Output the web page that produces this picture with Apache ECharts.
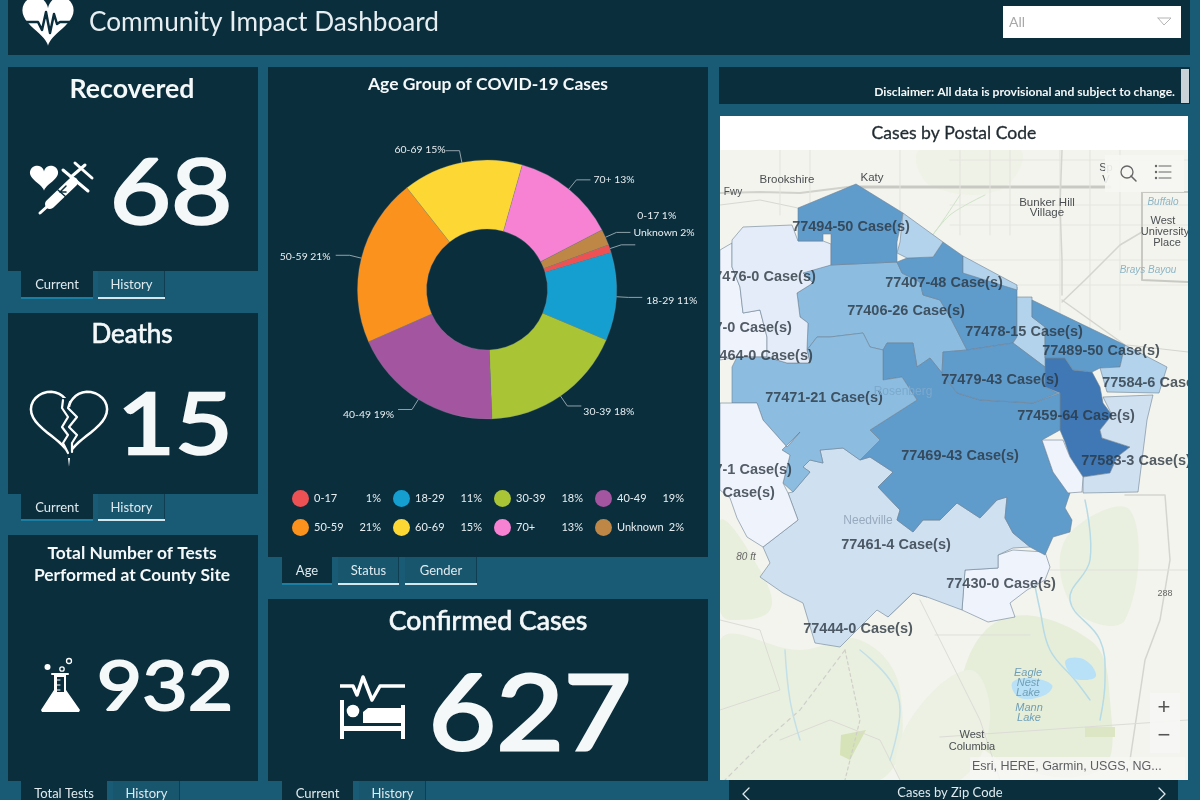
<!DOCTYPE html>
<html><head><meta charset="utf-8">
<script src="https://cdn.jsdelivr.net/npm/echarts@6/dist/echarts.min.js"></script>
<style>html,body{margin:0;padding:0;background:#195a74}#c{width:1200px;height:800px}</style></head>
<body><div id="c"></div>
<script>
// ---- chart values
const ageNames = ['0-17','18-29','30-39','40-49','50-59','60-69','70+','Unknown'];
const agePercents = [1,11,18,19,21,15,13,2];
const ageColors = ['#ed5153','#159fd0','#a9c535','#a3559f','#fb921e','#fdd835','#f781d3','#bf8746'];
const kpiValues = {recovered:'68',deaths:'15',tests:'932',confirmed:'627'};

const zipNames = ['77494','77407','77406','77471','77478','77479','77489','77459','77469','77583','77461','77444','77430','77584','77476','77464','n1','n2','n3','n4'];
const zipCases = [50,48,26,21,15,43,50,64,43,3,4,0,0,6,1,0,15,15,0,0];
const zipShapes = {
 '77476':[[732,240],[743,227],[792,225],[798,241],[823,241],[831,244],[831,265],[803,273],[813,283],[797,293],[800,317],[808,323],[807,350],[810,363],[787,363],[767,357],[767,337],[760,310],[743,313],[740,287],[732,267]],
 '77464':[[720,250],[732,243],[732,267],[740,287],[743,313],[760,310],[767,337],[767,357],[737,357],[720,360]],
 '77494':[[856,184],[798,208],[798,241],[823,241],[823,234],[831,234],[831,265],[897,262],[897,242],[903,213]],
 'n1':[[903,213],[943,242],[933,257],[907,258],[897,253],[900,242]],
 '77407':[[897,262],[907,258],[933,257],[943,242],[963,256],[963,273],[1017,287],[1017,337],[1013,343],[967,350],[950,317],[940,300],[923,295],[920,282],[902,273]],
 'n2':[[963,256],[1017,285],[1017,290],[963,273]],
 '77406':[[807,270],[831,265],[897,262],[902,273],[920,282],[923,295],[940,300],[950,317],[967,350],[943,352],[942,373],[930,358],[917,367],[913,343],[887,343],[883,350],[870,347],[863,333],[830,337],[817,337],[807,350],[808,323],[800,317],[797,293],[813,283],[803,273]],
 '77471':[[732,403],[732,367],[737,357],[767,357],[787,363],[810,363],[807,350],[817,337],[830,337],[863,333],[870,347],[883,350],[883,380],[902,377],[917,400],[870,430],[880,440],[860,460],[843,448],[820,450],[823,463],[810,460],[803,467],[810,472],[793,492],[783,483],[790,455],[782,450],[800,432],[787,447],[763,420],[757,403]],
 'n3':[[720,403],[757,403],[763,420],[787,447],[800,432],[782,450],[790,455],[783,483],[788,493],[798,520],[763,547],[747,537],[737,518],[730,498],[720,490]],
 '77461':[[843,448],[860,460],[870,457],[893,472],[878,487],[900,510],[897,520],[913,532],[923,520],[940,520],[957,503],[980,518],[997,500],[1007,497],[1005,518],[1013,533],[1030,547],[1013,548],[998,555],[998,568],[965,570],[962,610],[927,597],[913,593],[888,617],[877,610],[847,640],[840,647],[815,643],[803,603],[783,593],[760,577],[770,563],[763,547],[798,520],[788,493],[793,492],[810,472],[803,467],[810,460],[823,463],[820,450]],
 '77469':[[883,350],[887,343],[913,343],[917,367],[930,358],[942,373],[957,393],[980,400],[1033,403],[1060,393],[1060,430],[1042,440],[1053,472],[1070,493],[1065,508],[1072,520],[1070,532],[1053,537],[1045,555],[1030,547],[1013,533],[1005,518],[1007,497],[997,500],[980,518],[957,503],[940,520],[923,520],[913,532],[897,520],[900,510],[878,487],[893,472],[870,457],[860,460],[880,440],[870,430],[917,400],[902,377],[883,380]],
 '77479':[[943,352],[967,350],[1013,343],[1045,367],[1045,387],[1058,393],[1033,403],[980,400],[957,393],[942,373]],
 '77478':[[1017,297],[1032,297],[1032,317],[1045,327],[1045,367],[1013,343],[1017,337]],
 '77489':[[1032,300],[1125,345],[1120,367],[1100,368],[1092,372],[1073,370],[1065,358],[1045,358],[1045,327],[1032,317]],
 '77459':[[1045,358],[1065,358],[1073,370],[1092,372],[1100,387],[1103,403],[1112,415],[1100,430],[1102,438],[1130,447],[1117,457],[1110,473],[1083,477],[1070,457],[1065,442],[1060,430],[1060,393],[1045,387]],
 '77584':[[1100,368],[1120,367],[1125,345],[1167,367],[1159,393],[1107,392]],
 'n4':[[1042,440],[1063,440],[1070,457],[1083,477],[1082,492],[1068,493],[1053,472]],
 '77583':[[1103,397],[1153,395],[1147,420],[1138,492],[1083,493],[1083,477],[1110,473],[1117,457],[1130,447],[1102,438],[1100,430],[1112,415]],
 '77444':[[912,553],[943,578],[927,597],[913,593],[888,617],[870,597],[875,573],[883,563],[895,572]],
 '77430':[[998,555],[1013,550],[1045,552],[1050,567],[1045,580],[1027,590],[1010,603],[1015,617],[988,622],[962,610],[965,570],[998,568]]
};
const mapLabels = [['77494-50 Case(s)',851,227],['77476-0 Case(s)',761,277],['77417-0 Case(s)',737,328],['77464-0 Case(s)',758,356],['77407-48 Case(s)',944,283],['77406-26 Case(s)',906,311],['77478-15 Case(s)',1024,332],['77489-50 Case(s)',1101,351],['77584-6 Case(s)',1157,383],['77479-43 Case(s)',1000,380],['77471-21 Case(s)',824,398],['77459-64 Case(s)',1076,416],['77469-43 Case(s)',960,456],['77583-3 Case(s)',1136,461],['77417-1 Case(s)',737,470],['77481-0 Case(s)',720,493],['77461-4 Case(s)',896,545],['77430-0 Case(s)',1001,584],['77444-0 Case(s)',858,629]];

// ---- theme
const BG='#195a74', PANEL='#0b2e3d', TXT='#f4f8f9', FONT='Lato';
const chart = echarts.init(document.getElementById('c'),null,{renderer:'canvas'});

// ---- geo registration with pixel-traced coordinates
const features = Object.keys(zipShapes).map(k=>{const r=zipShapes[k];return {type:'Feature',properties:{name:k},geometry:{type:'Polygon',coordinates:[r.concat([r[0]])]}};});
echarts.registerMap('fortbend',{type:'FeatureCollection',features});
let xs=[],ys=[];Object.values(zipShapes).forEach(r=>r.forEach(p=>{xs.push(p[0]);ys.push(p[1]);}));
const bx=Math.min(...xs),bX=Math.max(...xs),by=Math.min(...ys),bY=Math.max(...ys);

// ---- graphic helpers
const g=[];
const rect=(x,y,w,h,fill,z=51,extra={})=>g.push({type:'rect',shape:{x,y,width:w,height:h},style:{fill,...extra},z,silent:true});
const txt=(x,y,text,size,opt={})=>g.push({type:'text',x,y,z:opt.z||53,silent:true,scaleX:opt.sx||1,style:{text,fontFamily:opt.font||FONT,fontSize:size,fontWeight:opt.w||'normal',fontStyle:opt.s||'normal',fill:opt.c||TXT,align:opt.a||'center',verticalAlign:'middle',opacity:opt.o==null?1:opt.o,stroke:opt.st?(opt.c||TXT):null,lineWidth:opt.st||0}});
const line=(pts,c,lw,z=1,extra={})=>g.push({type:'polyline',shape:{points:pts,smooth:extra.smooth||0},style:{stroke:c,lineWidth:lw,fill:null,lineCap:extra.cap||'round',lineJoin:'round',lineDash:extra.dash||null,opacity:extra.o==null?1:extra.o},z,silent:true});
const poly=(pts,fill,z=1,smooth=0,o=1)=>g.push({type:'polygon',shape:{points:pts,smooth},style:{fill,opacity:o},z,silent:true});
const circ=(cx,cy,r,fill,z=53,stroke=null,lw=0)=>g.push({type:'circle',shape:{cx,cy,r},style:{fill,stroke,lineWidth:lw},z,silent:true});
function heartPts(cx,cy,sx,sy){const p=[];for(let i=0;i<64;i++){const t=i/64*Math.PI*2;const X=16*Math.pow(Math.sin(t),3),Y=13*Math.cos(t)-5*Math.cos(2*t)-2*Math.cos(3*t)-Math.cos(4*t);p.push([cx+X*sx,cy-Y*sy]);}return p;}
function tab(x,y,w,h,label,active,labelY){
  rect(x,y,w,h,active?PANEL:'#18566e',51);
  rect(x,y+h-2,w,2,active?'#1b7ea3':'#d4e6ee',52);
  if(!active) rect(x+w-1,y,1,h-2,'#0f3e52',52);
  txt(x+w/2,labelY==null?y+h/2:labelY,label,13,{c:'#dfeaee'});
}

// ---- basemap (under the map series)
rect(720,116,468,664,'#f3f4ee',0);
poly([[720,640],[800,650],[860,640],[900,690],[880,780],[720,780]],'#e9f0df',0,0.4);
poly([[1000,620],[1090,640],[1110,700],[1100,770],[1000,760],[960,700]],'#e6eeda',0,0.4);
poly([[1065,540],[1130,510],[1125,620],[1075,610]],'#eaf0e0',0,0.4);
poly([[720,520],[760,570],[770,610],[730,620],[720,610]],'#e8efdd',0,0.4);
poly([[910,720],[970,670],[990,720],[960,780],[900,780]],'#ecf1e3',0,0.4);
poly([[920,150],[1020,150],[1000,190],[930,185]],'#eff2e6',0,0.4);
poly([[841,735],[866,730],[850,760],[840,755]],'#d6e2b8',1);
poly([[1085,727],[1115,727],[1115,737],[1085,737]],'#dde6c4',1);
line([[720,193],[760,192],[800,193],[856,186]],'#d2d2cc',2);
line([[860,187],[1110,187]],'#c9c9c4',3);
line([[720,205],[760,200],[798,208]],'#d8d8d2',1);
[780,810,900,960,990,1010,1060,1090,1120].forEach(x=>line([[x,150],[x,x<900?215:(x<1040?235:330)]],'#e3e3dd',1));
[160,205,225,260,285].forEach(y=>line([[950,y],[1188,y]],'#e6e6e0',1));
line([[1062,295],[1062,260],[1060,205],[1062,150]],'#d5d5d0',1.5);
line([[1062,302],[1085,280],[1120,245],[1142,232]],'#d5d5d0',1.5);
line([[1062,300],[1090,320],[1125,345]],'#d5d5d0',1.5);
line([[1142,192],[1142,280],[1188,282]],'#c9c9c4',2);
line([[1142,192],[1188,192]],'#c9c9c4',2);
line([[1127,345],[1188,352]],'#d5d5d0',1);
line([[1125,495],[1165,495],[1170,560],[1160,620],[1145,660],[1130,760]],'#d5d5d0',1.5);
line([[1050,570],[1188,570]],'#e0e0da',1);
line([[935,635],[1030,635]],'#dfdfd9',1);
line([[920,600],[980,720],[1000,780]],'#dcdcd6',1);
line([[720,620],[760,630],[780,690],[720,710]],'#dcdcd6',1);
line([[780,740],[830,720],[880,740],[900,780]],'#dcdcd6',1);
line([[845,650],[800,710],[760,745],[725,780]],'#cfcfca',1.2,1,{dash:[4,4]});
line([[845,650],[860,720],[845,780]],'#cfcfca',1.2,1,{dash:[3,3]});
line([[940,737],[1188,720]],'#dcdcd6',1);
line([[1030,560],[1040,610],[1050,650],[1075,680],[1090,700]],'#b6dbe6',1.5,1,{smooth:0.4});
line([[1085,500],[1090,560],[1070,600],[1100,640],[1105,680],[1100,720]],'#b6dbe6',1.5,1,{smooth:0.4});
line([[785,650],[790,700],[800,740]],'#c3dfe8',1.5,1,{smooth:0.4});
line([[860,650],[890,680],[900,710],[890,760]],'#c3dfe8',1.5,1,{smooth:0.4});
line([[960,195],[940,225],[925,245],[950,215],[985,195]],'#cfe3c8',1,1,{smooth:0.3});
poly([[1066,660],[1085,660],[1096,676],[1080,680],[1070,674]],'#b8e1f7',1,0.4);
poly([[1012,683],[1030,678],[1052,685],[1045,695],[1020,698]],'#b8e1f7',1,0.4);
const mapTxt={font:'Liberation Sans',c:'#4b4f52',z:1};
const blueI={font:'Liberation Sans',c:'#6f9fb6',s:'italic',z:1};
txt(787,180,'Brookshire',11.5,mapTxt);
txt(872,178,'Katy',11.5,mapTxt);
txt(1047,203,'Bunker Hill',11.5,mapTxt);txt(1047,213,'Village',11.5,mapTxt);
txt(1163,221,'West',11,mapTxt);txt(1165,232,'University',11,mapTxt);txt(1167,243,'Place',11,mapTxt);
txt(1163,202,'Buffalo',10,{...blueI,c:'#8db5c4'});
txt(1148,270,'Brays Bayou',10,{...blueI,c:'#8db5c4'});
txt(1106,168,'Sp',11,mapTxt);txt(1106,180,'V',11,mapTxt);
txt(733,192,'Fwy',10,mapTxt);
txt(746,557,'80 ft',10,{font:'Liberation Sans',c:'#666',s:'italic',z:1});
txt(1028,673,'Eagle',11,blueI);txt(1028,683,'Nest',11,blueI);txt(1028,693,'Lake',11,blueI);
txt(1029,708,'Mann',11,blueI);txt(1029,718,'Lake',11,blueI);
txt(972,735,'West',11,mapTxt);txt(972,747,'Columbia',11,mapTxt);
txt(1165,594,'288',9,{font:'Liberation Sans',c:'#666',z:1});

// ---- page frame around the map (covers overflowing map labels)
rect(0,0,720,800,BG,50);rect(720,0,480,116,BG,50);rect(1188,116,12,684,BG,50);rect(720,780,480,20,BG,50);

// map furniture
txt(868,521,'Needville',12,{font:'Liberation Sans',c:'#98aabd',z:5});
txt(903,392,'Rosenberg',12,{font:'Liberation Sans',c:'#7ca9cc',z:5});
rect(720,116,468,34,'#ffffff',52);
txt(954,133,'Cases by Postal Code',17.6,{c:'#1f2a30',st:0.3});
rect(1105,155,79,37,'#f6f6f3',52,{opacity:0.9});
circ(1127,172,6,'rgba(0,0,0,0)',53,'#666',1.3);line([[1131,176],[1136,181]],'#666',1.5,53);
[166,172,178].forEach(y=>{line([[1159,y],[1171,y]],'#666',1,53);circ(1156,y,1.2,'#666');});
rect(1150,693,30,60,'#f6f6f3',52,{opacity:0.95});
txt(1164,708,'+',22,{font:'Liberation Sans',c:'#555'});txt(1164,736,'−',22,{font:'Liberation Sans',c:'#555'});
rect(970,757,215,23,'#f6f6f3',52,{opacity:0.85});
txt(972,767,'Esri, HERE, Garmin, USGS, NG...',12.5,{font:'Liberation Sans',c:'#5c5f62',a:'left'});

// panels
rect(8,0,1182,55,PANEL);
rect(8,67,250,204,PANEL);rect(8,313,250,181,PANEL);rect(8,535,250,246,PANEL);
rect(268,67,440,490,PANEL);rect(268,599,440,182,PANEL);
rect(719,67,471,37,PANEL);rect(1181,69,8,34,'#c9d2d6',52);
rect(729,780,449,20,PANEL);

// header
txt(89,23,'Community Impact Dashboard',26.2,{a:'left',c:'#e6eef1'});
rect(1003,6,178,32,'#ffffff',52);
txt(1009,22,'All',14,{a:'left',c:'#a8a8a8'});
line([[1158,18],[1164,25],[1171,18],[1158,18]],'#b5b5b5',1,53);
// heart pulse icon
poly(heartPts(48,17,1.6,1.7),'#ffffff',53);
line([[22,22],[38,22],[42,30],[46,12],[50,33],[54,14],[57,24],[60,22],[76,22]],PANEL,2.5,54);

// KPI cards
txt(132,89,'Recovered',26.7,{w:'bold'});
txt(171,194,kpiValues.recovered,92,{sx:1.15,st:2.5});
tab(21,271,72,28,'Current',true);tab(98,271,67,28,'History',false);
poly(heartPts(44,176,0.88,0.87),'#ffffff',53);
line([[40,213],[50,204]],'#fff',3,53);
line([[50,204],[73,182]],'#fff',10,53);
line([[58,190],[66,197]],PANEL,1.5,54);line([[66,186],[60,192],[66,192]],PANEL,1.5,54);
line([[63,170],[88,191]],'#fff',3,53);
line([[71,177],[85,165]],'#fff',3,53);
line([[75,163],[92,178]],'#fff',3,53);

txt(132,335,'Deaths',26,{st:0.7});
txt(175,427,kpiValues.deaths,85,{sx:1.17,st:2.5});
tab(21,494,72,27,'Current',true);tab(98,494,67,27,'History',false);
g.push({type:'polygon',shape:{points:heartPts(69,418,2.38,2.2)},style:{fill:'rgba(0,0,0,0)',stroke:'#fff',lineWidth:2.5},z:53,silent:true});
poly([[63,398],[70,398],[68,408],[77,417],[69,427],[77,435],[72,443],[72,458],[68,458],[63,443],[68,435],[62,427],[68,417],[62,408]],PANEL,54);
line([[63,400],[62,408],[68,417],[62,427],[68,435],[63,443],[68,453]],'#fff',2.2,55);
line([[70,402],[68,408],[77,417],[69,427],[77,435],[72,443],[72,452]],'#fff',2.2,55);

txt(132,553,'Total Number of Tests',17.4,{w:'bold'});
txt(132,575,'Performed at County Site',17.4,{w:'bold'});
txt(165,688,kpiValues.tests,67,{sx:1.17,st:2});
tab(21,781,86,28,'Total Tests',true,794);tab(113,781,67,28,'History',false,794);
poly([[54,675],[66,675],[66,690],[80,710],[79,712],[42,712],[41,710],[54,690]],'#fff',53);
poly([[57,677],[64,677],[64,692],[57,692]],PANEL,54);
line([[52,674],[68,674]],'#fff',2,53);
[680,685,690].forEach(y=>line([[57,y],[60,y]],'#fff',1,55));
circ(47.5,667,3,'#fff');circ(62,669,2.2,'rgba(0,0,0,0)',53,'#fff',1.3);circ(69,661,2.5,'rgba(0,0,0,0)',53,'#fff',1.3);

txt(488,84,'Age Group of COVID-19 Cases',17.5,{w:'bold'});
tab(282,557,50,28,'Age',true);tab(338,557,61,28,'Status',false);tab(405,557,72,28,'Gender',false);

txt(488,621,'Confirmed Cases',26.7,{st:0.7});
txt(530,716,kpiValues.confirmed,105,{sx:1.11,st:3});
tab(282,781,71,28,'Current',true,794);tab(359,781,67,28,'History',false,794);
// bed icon
line([[340,686],[353,686],[357,695],[363,677],[372,700],[380,686],[405,686]],'#fff',3.5,53,{cap:'butt'});
line([[342,700],[342,739]],'#fff',4,53,{cap:'butt'});line([[403,705],[403,739]],'#fff',4,53,{cap:'butt'});
rect(342,726,61,5,'#fff',53);
circ(353,711,6.3,'#fff');
poly([[363,712],[368,708],[403,708],[403,723],[363,723]],'#fff',53);

txt(1175,92,'Disclaimer: All data is provisional and subject to change.',12.15,{a:'right',w:'bold'});
txt(950,793,'Cases by Zip Code',13,{c:'#dfeaee'});
line([[749,788],[743,794],[749,800]],'#dfeaee',1.3,53);
line([[1159,788],[1165,794],[1159,800]],'#dfeaee',1.3,53);

// pie label nudges so leader lines end where the reference's do
const pieNudge = {'0-17':[-3,-29],'18-29':[-1,3],'30-39':[-3,6],'40-49':[1,5],'50-59':[0,1],'60-69':[5,-1],'70+':[-2,0],'Unknown':[-2,0]};

// ---- option
chart.setOption({
  animation:false,
  backgroundColor:BG,
  graphic:{elements:g},
  geo:{map:'fortbend',roam:false,silent:true,
    projection:{project:p=>p,unproject:p=>p},
    left:bx,top:by,width:bX-bx,height:bY-by,z:2,
    itemStyle:{areaColor:'#eef2fb',borderColor:'rgba(110,130,148,0.6)',borderWidth:1},
    label:{show:false},emphasis:{disabled:true}},
  visualMap:{show:false,type:'piecewise',seriesIndex:0,
    pieces:[{value:0,color:'#eff3fc'},{min:1,max:2,color:'#e3ecf8'},{min:3,max:5,color:'#cfe0f1'},{min:6,max:15,color:'#b3d3ec'},{min:16,max:30,color:'#8cbde1'},{min:31,max:55,color:'#5f9bcb'},{min:56,color:'#3f78b5'}]},
  legend:{data:ageNames,left:292,top:490,width:415,orient:'horizontal',padding:0,itemWidth:17,itemHeight:17,itemGap:12,icon:'circle',z:60,
    selectedMode:false,itemStyle:{borderWidth:0},
    formatter:n=>`{n|${n}}{p|${agePercents[ageNames.indexOf(n)]}%}`,
    textStyle:{rich:{n:{color:'#e8eff2',fontFamily:FONT,fontSize:11,width:43},p:{color:'#e8eff2',fontFamily:FONT,fontSize:11,width:24,align:'right'}}}},
  series:[
   {type:'map',geoIndex:0,silent:true,data:zipNames.map((n,i)=>({name:n,value:zipCases[i]}))},
   {type:'scatter',coordinateSystem:'geo',z:4,silent:true,symbolSize:0,
    data:mapLabels.map(l=>({name:l[0],value:[l[1],l[2]]})),
    label:{show:true,position:'inside',formatter:'{b}',color:'#2b3640',fontFamily:'Liberation Sans',fontWeight:'bold',fontSize:14.5,distance:0}},
   {type:'pie',z:60,center:[487,289.5],radius:[60.5,129.5],startAngle:20.2,clockwise:true,silent:true,
    avoidLabelOverlap:true,
    data:ageNames.map((n,i)=>({name:n,value:agePercents[i],itemStyle:{color:ageColors[i]}})),
    itemStyle:{borderColor:'#7f8f96',borderWidth:0.3},
    label:{color:'#e8eff2',fontFamily:FONT,fontSize:10.4,formatter:p=>p.name+' '+p.value+'%'},
    labelLine:{length:12,length2:14,lineStyle:{color:'#8fa2aa',width:1}},
    labelLayout:p=>{const n=pieNudge[ageNames[p.dataIndex]];return {dx:n[0],dy:n[1]};}}
  ]
});
</script></body></html>
